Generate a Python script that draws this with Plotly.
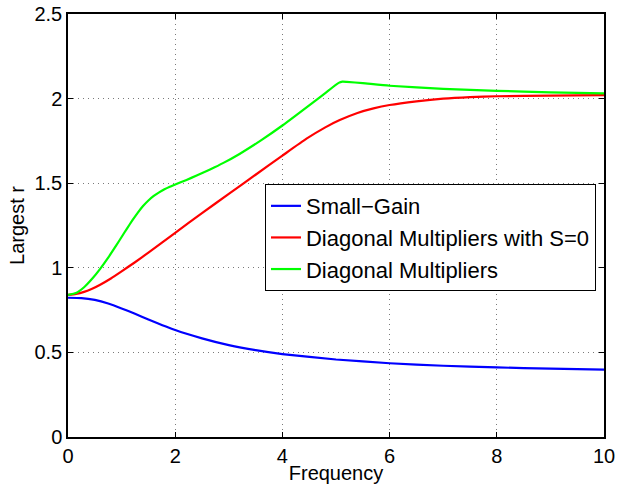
import plotly.graph_objects as go

# Data
blue_x = [0, 0.25, 0.5, 0.75, 1.0, 1.25, 1.5, 2.0, 2.5, 3.0, 3.5, 4.0, 5.0, 6.0, 7.0, 8.0, 9.0, 10]
blue_y = [0.823, 0.821, 0.81, 0.789, 0.76, 0.728, 0.695, 0.632, 0.583, 0.543, 0.513, 0.49, 0.458, 0.436, 0.421, 0.411, 0.404, 0.398]

red_x = [0, 0.15, 0.3, 0.45, 0.6, 0.8, 1.0, 1.25, 1.5, 2.0, 2.5, 3.0, 3.5, 4.0, 4.45, 4.8, 5.07, 5.4, 5.7, 6.0, 6.5, 7.0, 7.5, 8.0, 9.0, 10]
red_y = [0.84, 0.846, 0.858, 0.876, 0.900, 0.937, 0.979, 1.033, 1.09, 1.207, 1.323, 1.437, 1.55, 1.663, 1.763, 1.83, 1.873, 1.915, 1.942, 1.962, 1.984, 2.0, 2.009, 2.014, 2.018, 2.02]

green_x = [0, 0.15, 0.3, 0.45, 0.6, 0.75, 0.9, 1.0, 1.1, 1.2, 1.3, 1.4, 1.5, 1.6, 1.7, 1.8, 1.9, 2.0, 2.2, 2.4, 2.65, 2.9, 3.2, 3.6, 4.0, 4.5, 4.8, 5.05, 5.12, 5.2, 5.5, 6.0, 7.0, 8.0, 9.0, 10]
green_y = [0.84, 0.851, 0.885, 0.935, 0.994, 1.060, 1.132, 1.182, 1.232, 1.280, 1.325, 1.365, 1.398, 1.425, 1.446, 1.464, 1.479, 1.492, 1.518, 1.545, 1.581, 1.620, 1.673, 1.753, 1.841, 1.960, 2.033, 2.093, 2.100, 2.099, 2.091, 2.076, 2.058, 2.046, 2.037, 2.031]

names = ["Small\u2212Gain", "Diagonal Multipliers with S=0", "Diagonal Multipliers"]
colors = ["#0000ff", "#ff0000", "#00ff00"]

x_ticks = [0, 2, 4, 6, 8, 10]
y_ticks = [0, 0.5, 1, 1.5, 2, 2.5]
y_ticktext = ["0", "0.5", "1", "1.5", "2", "2.5"]

font = "Liberation Sans, Arial, Helvetica, sans-serif"
fs = 20

fig = go.Figure()
for xs, ys, n, c in zip([blue_x, red_x, green_x], [blue_y, red_y, green_y], names, colors):
    fig.add_trace(go.Scatter(x=xs, y=ys, mode="lines", name=n,
                             line=dict(color=c, width=2.2, shape="spline", smoothing=0.5)))

axis_common = dict(
    showline=True, linecolor="black", linewidth=1.5, mirror="ticks",
    ticks="inside", ticklen=5, tickcolor="black", tickwidth=1,
    showgrid=True, gridcolor="#7a7a7a", griddash="1px,4px", gridwidth=1,
    zeroline=False, tickfont=dict(size=fs, color="black", family=font),
    automargin=False,
)

fig.update_layout(
    width=618, height=486,
    margin=dict(l=68, r=14, t=14, b=49, autoexpand=False),
    plot_bgcolor="white", paper_bgcolor="white",
    font=dict(family=font, size=fs, color="black"),
    xaxis=dict(range=[0, 10], tickvals=x_ticks,
               title=dict(text="Frequency", font=dict(size=fs), standoff=0), **axis_common),
    yaxis=dict(range=[0, 2.5], tickvals=y_ticks, ticktext=y_ticktext,
               title=dict(text="Largest r", font=dict(size=fs), standoff=4), **axis_common),
    legend=dict(x=0.3675, y=0.598, xanchor="left", yanchor="top",
                bgcolor="white", bordercolor="black", borderwidth=1,
                font=dict(size=22, family=font), tracegroupgap=0,
                itemwidth=30),
    showlegend=True,
)

fig.write_html("out.html")
